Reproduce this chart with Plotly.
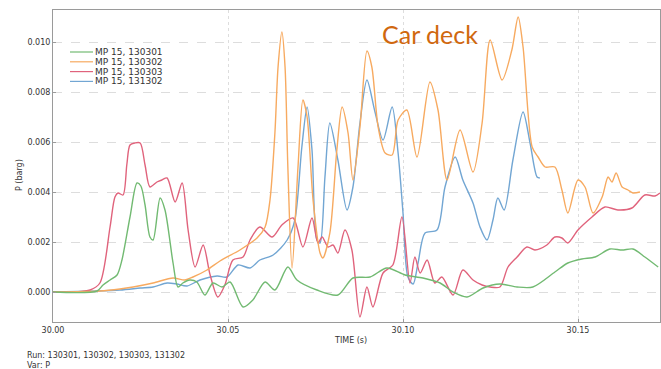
import plotly.graph_objects as go

# Pressure histories at monitor point MP 15 (time in s, pressure in barg)
t_130301 = [30.0000, 30.0126, 30.0143, 30.0163, 30.0183, 30.0197, 30.0220, 30.0240, 30.0251, 30.0263,
            30.0277, 30.0286, 30.0306, 30.0320, 30.0343, 30.0357, 30.0371, 30.0391, 30.0411, 30.0434,
            30.0457, 30.0483, 30.0506, 30.0543, 30.0571, 30.0606, 30.0634, 30.0671, 30.0697, 30.0754,
            30.0814, 30.0857, 30.0906, 30.0954, 30.1006, 30.1057, 30.1106, 30.1143, 30.1183, 30.1229,
            30.1277, 30.1326, 30.1371, 30.1434, 30.1471, 30.1511, 30.1549, 30.1591, 30.1626, 30.1657,
            30.1691, 30.1729]
p_130301 = [0.0000, 0.00004, 0.00028, 0.00048, 0.00068, 0.00128, 0.00300, 0.00436, 0.00424, 0.00348,
            0.00220, 0.00208, 0.00376, 0.00328, 0.00116, 0.00020, 0.00036, 0.00048, 0.00040, -0.00012,
            0.00036, 0.00020, 0.00040, -0.00060, -0.00032, 0.00040, 0.00008, 0.00100, 0.00048, 0.00008,
            -0.00012, 0.00056, 0.00060, 0.00096, 0.00068, 0.00056, 0.00036, 0.00000, -0.00020, 0.00016,
            0.00032, 0.00020, 0.00020, 0.00080, 0.00116, 0.00132, 0.00140, 0.00172, 0.00168, 0.00172,
            0.00140, 0.00100]

t_130302 = [30.0000, 30.0134, 30.0191, 30.0229, 30.0286, 30.0343, 30.0377, 30.0400, 30.0440, 30.0477,
            30.0534, 30.0583, 30.0606, 30.0620, 30.0634, 30.0643, 30.0654, 30.0663, 30.0671, 30.0683,
            30.0700, 30.0714, 30.0726, 30.0743, 30.0763, 30.0771, 30.0791, 30.0811, 30.0826, 30.0843,
            30.0857, 30.0877, 30.0897, 30.0911, 30.0929, 30.0949, 30.0969, 30.0986, 30.1011, 30.1040,
            30.1077, 30.1100, 30.1126, 30.1163, 30.1200, 30.1226, 30.1249, 30.1283, 30.1311, 30.1329,
            30.1343, 30.1369, 30.1386, 30.1406, 30.1434, 30.1454, 30.1471, 30.1500, 30.1520, 30.1543,
            30.1569, 30.1586, 30.1597, 30.1609, 30.1626, 30.1643, 30.1657, 30.1677]
p_130302 = [0.0000, 0.00004, 0.00012, 0.00020, 0.00036, 0.00056, 0.00048, 0.00060, 0.00088, 0.00124,
            0.00168, 0.00216, 0.00260, 0.00368, 0.00636, 0.00900, 0.01040, 0.00900, 0.00500, 0.00096,
            0.00500, 0.00768, 0.00700, 0.00368, 0.00156, 0.00136, 0.00236, 0.00568, 0.00740, 0.00636,
            0.00448, 0.00660, 0.00964, 0.00900, 0.00660, 0.00556, 0.00548, 0.00688, 0.00728, 0.00540,
            0.00840, 0.00728, 0.00448, 0.00648, 0.00480, 0.00676, 0.01008, 0.00848, 0.00968, 0.01100,
            0.00980, 0.00580, 0.00540, 0.00500, 0.00500, 0.00408, 0.00316, 0.00448, 0.00420, 0.00316,
            0.00380, 0.00460, 0.00440, 0.00476, 0.00420, 0.00408, 0.00396, 0.00400]

t_130303 = [30.0000, 30.0063, 30.0106, 30.0134, 30.0163, 30.0177, 30.0186, 30.0200, 30.0211, 30.0220,
            30.0234, 30.0249, 30.0263, 30.0277, 30.0297, 30.0311, 30.0326, 30.0349, 30.0369, 30.0386,
            30.0406, 30.0429, 30.0449, 30.0471, 30.0491, 30.0514, 30.0543, 30.0563, 30.0591, 30.0626,
            30.0654, 30.0686, 30.0714, 30.0740, 30.0757, 30.0769, 30.0786, 30.0800, 30.0814, 30.0834,
            30.0854, 30.0877, 30.0897, 30.0914, 30.0943, 30.0971, 30.0997, 30.1020, 30.1034, 30.1049,
            30.1069, 30.1091, 30.1111, 30.1143, 30.1171, 30.1200, 30.1226, 30.1249, 30.1277, 30.1300,
            30.1326, 30.1354, 30.1377, 30.1411, 30.1434, 30.1454, 30.1471, 30.1500, 30.1540, 30.1577,
            30.1614, 30.1654, 30.1691, 30.1720, 30.1734]
p_130303 = [0.0000, 0.0000, 0.00008, 0.00036, 0.00260, 0.00380, 0.00396, 0.00388, 0.00510, 0.00588,
            0.00596, 0.00596, 0.00508, 0.00420, 0.00440, 0.00448, 0.00456, 0.00360, 0.00436, 0.00248,
            0.00100, 0.00188, 0.00068, -0.00020, 0.00028, 0.00128, 0.00140, 0.00208, 0.00260, 0.00220,
            0.00268, 0.00296, 0.00180, 0.00296, 0.00196, 0.00220, 0.00180, 0.00188, 0.00156, 0.00248,
            0.00168, -0.00100, 0.00020, -0.00060, 0.00076, 0.00108, 0.00300, 0.00036, 0.00140, 0.00076,
            0.00128, 0.00036, 0.00060, -0.00012, 0.00088, 0.00048, 0.00028, 0.00020, 0.00020, 0.00100,
            0.00140, 0.00180, 0.00168, 0.00188, 0.00220, 0.00216, 0.00196, 0.00248, 0.00300, 0.00340,
            0.00328, 0.00336, 0.00388, 0.00384, 0.00396]

t_131302 = [30.0000, 30.0191, 30.0249, 30.0286, 30.0326, 30.0354, 30.0383, 30.0420, 30.0469, 30.0497,
            30.0529, 30.0563, 30.0591, 30.0629, 30.0669, 30.0691, 30.0711, 30.0726, 30.0740, 30.0754,
            30.0763, 30.0777, 30.0791, 30.0814, 30.0840, 30.0857, 30.0877, 30.0897, 30.0920, 30.0943,
            30.0969, 30.0986, 30.1000, 30.1014, 30.1029, 30.1043, 30.1063, 30.1097, 30.1120, 30.1149,
            30.1171, 30.1200, 30.1220, 30.1240, 30.1257, 30.1271, 30.1289, 30.1314, 30.1343, 30.1363,
            30.1383, 30.1391]
p_131302 = [0.0000, 0.00008, 0.00016, 0.00020, 0.00036, 0.00032, 0.00024, 0.00048, 0.00064, 0.00060,
            0.00108, 0.00096, 0.00128, 0.00148, 0.00208, 0.00288, 0.00580, 0.00740, 0.00568, 0.00208,
            0.00196, 0.00460, 0.00676, 0.00528, 0.00328, 0.00420, 0.00676, 0.00848, 0.00720, 0.00608,
            0.00740, 0.00556, 0.00316, 0.00060, 0.00032, 0.00116, 0.00236, 0.00248, 0.00420, 0.00540,
            0.00448, 0.00356, 0.00260, 0.00208, 0.00288, 0.00376, 0.00328, 0.00528, 0.00720, 0.00596,
            0.00460, 0.00456]

series_names = ["MP 15, 130301", "MP 15, 130302", "MP 15, 130303", "MP 15, 131302"]
series_colors = ["#72BA72", "#F7AA60", "#E0637C", "#72A6D3"]
series_t = [t_130301, t_130302, t_130303, t_131302]
series_p = [p_130301, p_130302, p_130303, p_131302]

x_ticks = [30.00, 30.05, 30.10, 30.15]
y_ticks = [0.000, 0.002, 0.004, 0.006, 0.008, 0.010]

W, H = 661, 369
ML, MR, MT, MB = 53, 1, 10, 47
PW, PH = W - ML - MR, H - MT - MB

fig = go.Figure()
# draw in reverse so the first run ends up on top, as listed
for name, color, t, p in list(zip(series_names, series_colors, series_t, series_p))[::-1]:
    fig.add_trace(go.Scatter(x=t, y=p, mode="lines", name=name, showlegend=False,
                             line=dict(color=color, width=1.4, shape="spline", smoothing=0.8)))

def px_x(px):
    return (px - ML) / PW

def px_y(py):
    return (H - MB - py) / PH

# compact legend in the upper left
shapes = []
annotations = []
for i, (name, color) in enumerate(zip(series_names, series_colors)):
    yy = px_y(52 + i * 9.8)
    shapes.append(dict(type="line", xref="paper", yref="paper", x0=px_x(70), x1=px_x(93),
                       y0=yy, y1=yy, line=dict(color=color, width=1.2)))
    annotations.append(dict(xref="paper", yref="paper", x=px_x(93), y=yy, text=name,
                            showarrow=False, xanchor="left", yanchor="middle",
                            font=dict(family="DejaVu Sans", size=9, color="#333333")))

annotations += [
    dict(xref="paper", yref="paper", x=px_x(380), y=px_y(34), text="Car deck", showarrow=False,
         xanchor="left", yanchor="middle", font=dict(family="Lato", size=25, color="#D0680F")),
    dict(xref="paper", yref="paper", x=px_x(350), y=px_y(340), text="TIME (s)", showarrow=False,
         xanchor="center", yanchor="middle", font=dict(family="DejaVu Sans", size=8, color="#333333")),
    dict(xref="paper", yref="paper", x=px_x(19), y=px_y(175), text="P (barg)", showarrow=False,
         textangle=-90, xanchor="center", yanchor="middle",
         font=dict(family="DejaVu Sans", size=8, color="#333333")),
    dict(xref="paper", yref="paper", x=px_x(25), y=px_y(355), text="Run: 130301, 130302, 130303, 131302",
         showarrow=False, xanchor="left", yanchor="middle",
         font=dict(family="DejaVu Sans", size=8, color="#333333")),
    dict(xref="paper", yref="paper", x=px_x(25), y=px_y(365), text="Var: P",
         showarrow=False, xanchor="left", yanchor="middle",
         font=dict(family="DejaVu Sans", size=8, color="#333333")),
]

fig.update_layout(
    width=W, height=H,
    margin=dict(l=ML, r=MR, t=MT, b=MB, pad=0),
    paper_bgcolor="white", plot_bgcolor="white",
    showlegend=False,
    shapes=shapes, annotations=annotations,
    xaxis=dict(range=[30.0, 30.0 + PW / 3500], tickvals=x_ticks, tickformat=".2f",
               showgrid=True, gridcolor="#DDDDDD", griddash="dot", gridwidth=1,
               showline=True, mirror=True, linecolor="#9A9A9A", linewidth=1,
               ticks="inside", ticklen=3, tickcolor="#9A9A9A", zeroline=False,
               tickfont=dict(family="DejaVu Sans", size=8, color="#333333")),
    yaxis=dict(range=[-0.0012, -0.0012 + PH / 25000], tickvals=y_ticks, tickformat=".3f",
               showgrid=True, gridcolor="#DDDDDD", griddash="dash", gridwidth=1,
               showline=True, mirror=True, linecolor="#9A9A9A", linewidth=1,
               ticks="inside", ticklen=3, tickcolor="#9A9A9A", zeroline=False,
               tickfont=dict(family="DejaVu Sans", size=8, color="#333333")),
)

fig.write_html("out.html")
